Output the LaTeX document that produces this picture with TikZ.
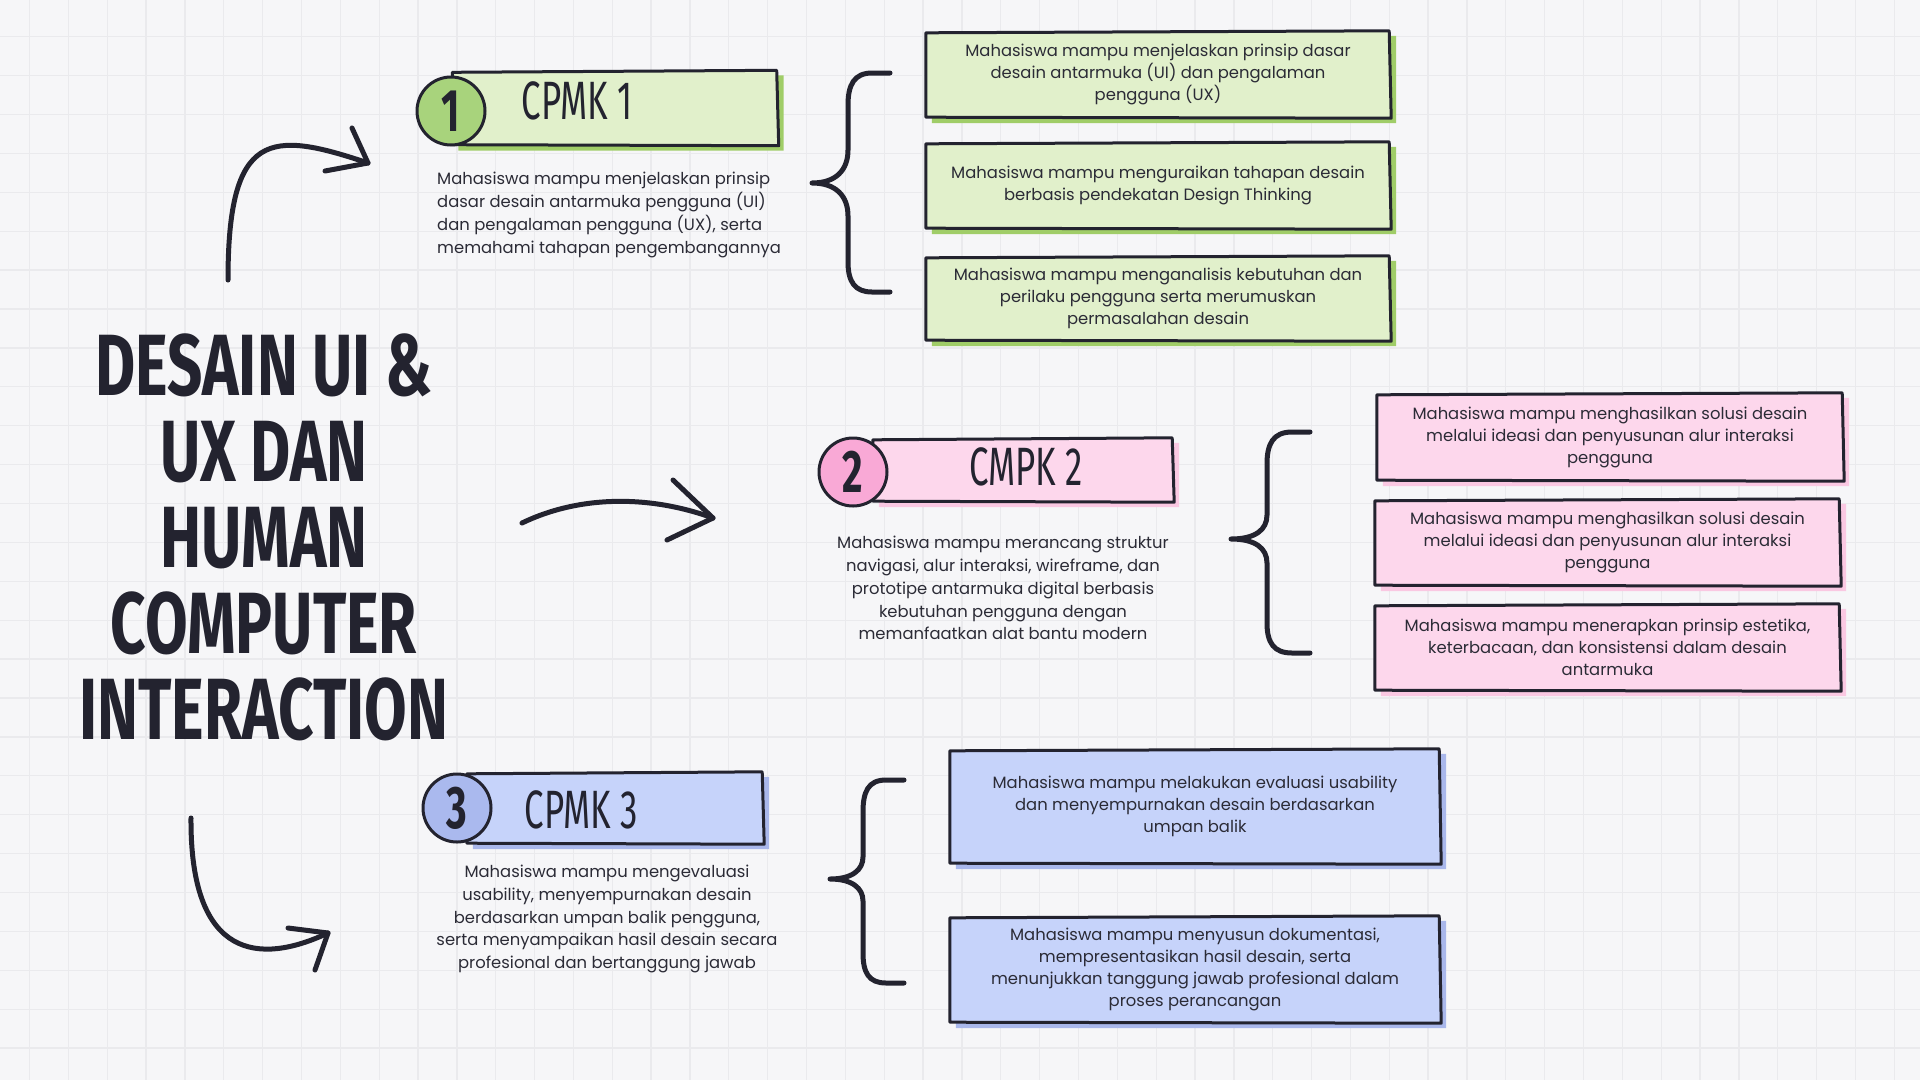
\documentclass[tikz,border=0pt]{standalone}
\usepackage{fontspec}
\setmainfont{Poppins}
\newfontfamily\titlefont[FakeStretch=0.71]{Fira Sans}
\newfontfamily\headfont[FakeStretch=0.645]{Fira Sans}
\newfontfamily\numfont[FakeStretch=0.66]{Fira Sans}
\usetikzlibrary{calc}
\pgfdeclarelayer{gridlayer}
\pgfdeclarelayer{bglayer}
\pgfsetlayers{gridlayer,bglayer,main}
\definecolor{bgc}{HTML}{F6F6F8}
\definecolor{gridc}{HTML}{EAEAED}
\definecolor{ink}{HTML}{23232F}
\definecolor{txt}{HTML}{2B2B36}
\definecolor{gfill}{HTML}{E1F0CB}
\definecolor{gshad}{HTML}{A0CD68}
\definecolor{gcirc}{HTML}{A8D37C}
\definecolor{pfill}{HTML}{FDD7EC}
\definecolor{pshad}{HTML}{FAC8E2}
\definecolor{pcirc}{HTML}{F9A9D6}
\definecolor{bfill}{HTML}{C6D3FA}
\definecolor{bshad}{HTML}{A9B7EB}
\definecolor{bcirc}{HTML}{AAB9EE}
\newcommand\sketchbox[3]{%
  \fill[#3] ($(#1.north west)+(6,5)$) -- ($(#1.north east)+(6,4)$) -- ($(#1.south east)+(6,6)$) -- ($(#1.south west)+(6,6)$) -- cycle;
  \filldraw[fill=#2, draw=ink, line width=3pt, line join=round] ($(#1.north west)+(0,1)$) -- ($(#1.north east)+(-1,-1)$) -- ($(#1.south east)+(1,1)$) -- ($(#1.south west)+(0,0)$) -- cycle;
}
\tikzset{
  boxnode/.style={rectangle, inner sep=0pt, align=center, text=txt, font=\fontsize{16.4}{22}\selectfont},
  desc/.style={inner sep=0pt, text=txt, font=\fontsize{16.4}{22.9}\selectfont},
  banner/.style={rectangle, inner sep=0pt},
  numcirc/.style={circle, draw=ink, line width=3pt, minimum size=68pt, inner sep=0pt, text=ink, font=\numfont\bfseries\fontsize{60}{60}\selectfont},
  head/.style={inner sep=0pt, text=ink, font=\headfont\fontsize{54}{54}\selectfont},
  title/.style={inner sep=0pt, align=center, text=ink, font=\titlefont\bfseries\fontsize{87}{86}\selectfont},
  brace/.style={draw=ink, line width=5pt, line cap=round, line join=round},
  brush/.style={draw=ink, line width=5pt, line cap=round, line join=round},
}
\begin{document}
\begin{tikzpicture}[x=1pt, y=-1pt]
\useasboundingbox (0,0) rectangle (1920,1080);
\begin{pgfonlayer}{gridlayer}
  \fill[bgc] (0,0) rectangle (1920,1080);
  \foreach \i in {0,...,49} { \draw[gridc, line width=1.3pt] ({29.5+38.85*\i},0) -- ++(0,1080); }
  \foreach \j in {0,...,27} { \draw[gridc, line width=1.3pt] (0,{36.7+38.9*\j}) -- ++(1920,0); }
\end{pgfonlayer}

% title
\node[title] (title) at (264,537) {DESAIN UI \&\\UX DAN\\HUMAN\\COMPUTER\\INTERACTION};

% ---------- CPMK 1 ----------
\node[banner, minimum width=325pt, minimum height=73pt] (h1) at (615,108) {};
\node[numcirc, fill=gcirc] (c1) at (451,111) {1};
\node[head] (t1) at (577,101) {CPMK 1};
\node[desc, anchor=west, align=left] (d1) at (437,215) {Mahasiswa mampu menjelaskan prinsip\\dasar desain antarmuka pengguna (UI)\\dan pengalaman pengguna (UX), serta\\memahami tahapan pengembangannya};
\node[boxnode, minimum width=464pt, minimum height=85pt] (g1) at (1158,74.5) {Mahasiswa mampu menjelaskan prinsip dasar\\desain antarmuka (UI) dan pengalaman\\pengguna (UX)};
\node[boxnode, minimum width=464pt, minimum height=85pt] (g2) at (1158,185.5) {Mahasiswa mampu menguraikan tahapan desain\\berbasis pendekatan Design Thinking};
\node[boxnode, minimum width=464pt, minimum height=83pt] (g3) at (1158,298.5) {Mahasiswa mampu menganalisis kebutuhan dan\\perilaku pengguna serta merumuskan\\permasalahan desain};

% ---------- CMPK 2 ----------
\node[banner, minimum width=300pt, minimum height=62pt] (h2) at (1023,470) {};
\node[numcirc, fill=pcirc] (c2) at (853,472) {2};
\node[head] (t2) at (1026,467) {CMPK 2};
\node[desc, align=center] (d2) at (1003,588) {Mahasiswa mampu merancang struktur\\navigasi, alur interaksi, wireframe, dan\\prototipe antarmuka digital berbasis\\kebutuhan pengguna dengan\\memanfaatkan alat bantu modern};
\node[boxnode, minimum width=466pt, minimum height=86pt] (p1) at (1610,437) {Mahasiswa mampu menghasilkan solusi desain\\melalui ideasi dan penyusunan alur interaksi\\pengguna};
\node[boxnode, minimum width=465pt, minimum height=85pt] (p2) at (1607.5,542.5) {Mahasiswa mampu menghasilkan solusi desain\\melalui ideasi dan penyusunan alur interaksi\\pengguna};
\node[boxnode, minimum width=465pt, minimum height=85pt] (p3) at (1607.5,647.5) {Mahasiswa mampu menerapkan prinsip estetika,\\keterbacaan, dan konsistensi dalam desain\\antarmuka};

% ---------- CPMK 3 ----------
\node[banner, minimum width=296pt, minimum height=70pt] (h3) at (615,808) {};
\node[numcirc, fill=bcirc] (c3) at (457,808) {3};
\node[head] (t3) at (581,810) {CPMK 3};
\node[desc, align=center] (d3) at (607,919) {Mahasiswa mampu mengevaluasi\\usability, menyempurnakan desain\\berdasarkan umpan balik pengguna,\\serta menyampaikan hasil desain secara\\profesional dan bertanggung jawab};
\node[boxnode, minimum width=490pt, minimum height=113pt] (b1) at (1195,806.5) {Mahasiswa mampu melakukan evaluasi usability\\dan menyempurnakan desain berdasarkan\\umpan balik};
\node[boxnode, minimum width=490pt, minimum height=105pt] (b2) at (1195,969.5) {Mahasiswa mampu menyusun dokumentasi,\\mempresentasikan hasil desain, serta\\menunjukkan tanggung jawab profesional dalam\\proses perancangan};

\begin{pgfonlayer}{bglayer}
  \sketchbox{h1}{gfill}{gshad}
  \sketchbox{g1}{gfill}{gshad}
  \sketchbox{g2}{gfill}{gshad}
  \sketchbox{g3}{gfill}{gshad}
  \sketchbox{h2}{pfill}{pshad}
  \sketchbox{p1}{pfill}{pshad}
  \sketchbox{p2}{pfill}{pshad}
  \sketchbox{p3}{pfill}{pshad}
  \sketchbox{h3}{bfill}{bshad}
  \sketchbox{b1}{bfill}{bshad}
  \sketchbox{b2}{bfill}{bshad}
\end{pgfonlayer}

% braces
\draw[brace] (890,73) -- (872,73) .. controls (854,73) and (848,85) .. (848,105) -- (848,150) .. controls (848,170) and (836,183) .. (812,183) .. controls (836,183) and (848,196) .. (848,216) -- (848,262) .. controls (848,282) and (855,292) .. (872,292) -- (890,292);
\draw[brace] (1310,432) -- (1292,432) .. controls (1273,432) and (1267,444) .. (1267,464) -- (1267,515) .. controls (1267,530) and (1255,539) .. (1231,539) .. controls (1255,539) and (1267,548) .. (1267,563) -- (1267,623) .. controls (1267,643) and (1274,653) .. (1292,653) -- (1310,653);
\draw[brace] (904,780) -- (886,780) .. controls (868,780) and (863,792) .. (863,812) -- (863,857) .. controls (863,870) and (852,879) .. (830,879) .. controls (852,879) and (863,888) .. (863,901) -- (863,953) .. controls (863,973) and (869,983) .. (886,983) -- (904,983);

% arrows
\coordinate (a1s) at (228,280);
\coordinate (a1e) at (368,163);
\draw[brush] (a1s) .. controls (228,130) and (270,130) .. (a1e);
\draw[brush] ($(a1e)+(-16,-35)$) -- (a1e) -- ($(a1e)+(-43,8)$);
\coordinate (a2s) at (522,523);
\coordinate (a2e) at (713,518);
\draw[brush] (a2s) .. controls (580,495) and (650,495) .. (a2e);
\draw[brush] ($(a2e)+(-40,-38)$) -- (a2e) -- ($(a2e)+(-46,22)$);
\coordinate (a3s) at (191,818);
\coordinate (a3e) at (328,933);
\draw[brush] (a3s) .. controls (190,960) and (260,965) .. (a3e);
\draw[brush] ($(a3e)+(-40,-5)$) -- (a3e) -- ($(a3e)+(-13,37)$);
\end{tikzpicture}
\end{document}
